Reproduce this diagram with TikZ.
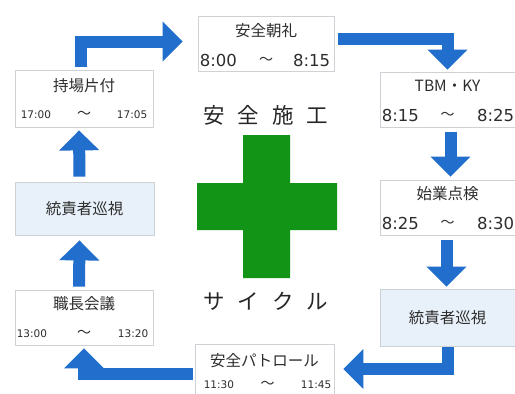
\documentclass[tikz,border=0pt]{standalone}
\usepackage{fontspec}
\newfontfamily\jp{Noto Sans CJK JP}
\newfontfamily\num{DejaVu Sans}
\usetikzlibrary{arrows.meta}
\definecolor{arrowblue}{RGB}{34,110,204}
\definecolor{boxline}{RGB}{206,210,214}
\definecolor{boxblue}{RGB}{232,241,249}
\definecolor{crossgreen}{RGB}{18,148,22}
\definecolor{txt}{RGB}{45,45,45}
\tikzset{
  box/.style={draw=boxline, line width=0.8pt, fill=white, inner sep=0pt},
  bluebox/.style={box, fill=boxblue},
  title/.style={inner sep=0pt, text=txt, font=\jp\fontsize{15.5}{16}\selectfont},
  tmbig/.style={inner sep=0pt, text=txt, font=\num\fontsize{16.5}{17}\selectfont},
  tmsmall/.style={inner sep=0pt, text=txt, font=\num\fontsize{10.5}{11}\selectfont},
  wave/.style={inner sep=0pt, text=txt, font=\jp\fontsize{14}{15}\selectfont},
  big/.style={inner sep=0pt, text=black!85, font=\jp\fontsize{21.5}{22}\selectfont},
  flow/.style={draw=arrowblue, line width=12pt, line join=miter,
    -{Triangle[width=39pt,length=20pt]}},
}
\begin{document}
\begin{tikzpicture}[x=1pt,y=-1pt]
\clip (0,0) rectangle (515,394);
\useasboundingbox (0,0) rectangle (515,394);
\fill[white] (0,0) rectangle (515,394);

% boxes
\node[box, minimum width=136pt, minimum height=55pt] (chorei) at (266,43.5) {};
\node[box, minimum width=138pt, minimum height=57pt] (jiba) at (84,98.5) {};
\node[bluebox, minimum width=139pt, minimum height=53pt] (tl) at (84.5,208.5) {};
\node[box, minimum width=138pt, minimum height=55pt] (shoku) at (84,317.5) {};
\node[box, minimum width=139pt, minimum height=56pt] (patrol) at (264.5,372) {};
\node[box, minimum width=135pt, minimum height=55pt] (tbm) at (447.5,99.5) {};
\node[box, minimum width=135pt, minimum height=55pt] (shigyo) at (447.5,207.5) {};
\node[bluebox, minimum width=135pt, minimum height=57pt] (tr) at (447.5,317.5) {};

% titles
\node[title] (t1) at ([yshift=-15pt]chorei.north) {安全朝礼};
\node[title] (t2) at ([yshift=-16pt]jiba.north) {持場片付};
\node[title] (t3) at (tl.center) {統責者巡視};
\node[title] (t4) at ([yshift=-14pt]shoku.north) {職長会議};
\node[title] (t5) at ([yshift=-17pt]patrol.north) {安全パトロール};
\node[title] (t6) at ([yshift=-14pt]tbm.north) {TBM・KY};
\node[title] (t7) at ([yshift=-14pt]shigyo.north) {始業点検};
\node[title] (t8) at (tr.center) {統責者巡視};

% times
\node[tmbig, anchor=west] (a1) at ([xshift=2pt,yshift=11pt]chorei.south west) {8:00};
\node[wave] (w1) at ([yshift=11pt]chorei.south) {～};
\node[tmbig, anchor=east] (b1) at ([xshift=-4pt,yshift=11pt]chorei.south east) {8:15};

\node[tmsmall, anchor=west] (a2) at ([xshift=6pt,yshift=13pt]jiba.south west) {17:00};
\node[wave] (w2) at ([yshift=13pt]jiba.south) {～};
\node[tmsmall, anchor=east] (b2) at ([xshift=-6pt,yshift=13pt]jiba.south east) {17:05};

\node[tmsmall, anchor=west] (a3) at ([xshift=2pt,yshift=12pt]shoku.south west) {13:00};
\node[wave] (w3) at ([yshift=12pt]shoku.south) {～};
\node[tmsmall, anchor=east] (b3) at ([xshift=-5pt,yshift=12pt]shoku.south east) {13:20};

\node[tmsmall, anchor=west] (a4) at ([xshift=9pt,yshift=-41pt]patrol.north west) {11:30};
\node[wave] (w4) at ([xshift=3pt,yshift=-41pt]patrol.north) {～};
\node[tmsmall, anchor=east] (b4) at ([xshift=-3pt,yshift=-41pt]patrol.north east) {11:45};

\node[tmbig, anchor=west] (a5) at ([xshift=2pt,yshift=12pt]tbm.south west) {8:15};
\node[wave] (w5) at ([yshift=12pt]tbm.south) {～};
\node[tmbig, anchor=east] (b5) at ([xshift=-1pt,yshift=12pt]tbm.south east) {8:25};

\node[tmbig, anchor=west] (a6) at ([xshift=2pt,yshift=12pt]shigyo.south west) {8:25};
\node[wave] (w6) at ([yshift=12pt]shigyo.south) {～};
\node[tmbig, anchor=east] (b6) at ([xshift=-1pt,yshift=12pt]shigyo.south east) {8:30};

% centre
\node[big] (top) at (266,115) {安\hspace{13pt}全\hspace{13pt}施\hspace{13pt}工};
\node[big] (bot) at (266,301) {サ\hspace{13pt}イ\hspace{13pt}ク\hspace{13pt}ル};
\fill[crossgreen] (243,135) -- (290,135) -- (290,183) -- (337,183) -- (337,230)
  -- (290,230) -- (290,278) -- (243,278) -- (243,230) -- (197,230) -- (197,183)
  -- (243,183) -- cycle;

% arrows
\draw[flow] ([xshift=-3pt,yshift=3pt]jiba.north) |- ([xshift=-15pt,yshift=2pt]chorei.west);
\draw[flow] ([xshift=4pt,yshift=4.5pt]chorei.east) -| ([yshift=2pt]tbm.north);
\draw[flow] ([xshift=3pt,yshift=-5pt]tbm.south) -- ([xshift=3pt,yshift=3pt]shigyo.north);
\draw[flow] ([xshift=-1pt,yshift=-5pt]shigyo.south) -- ([xshift=-1pt,yshift=2pt]tr.north);
\draw[flow] ([yshift=-1pt]tr.south) |- ([xshift=9pt,yshift=3pt]patrol.east);
\draw[flow] ([xshift=-2pt,yshift=-1.5pt]patrol.west) -| ([yshift=-3pt]shoku.south);
\draw[flow] ([xshift=-5pt,yshift=3pt]shoku.north) -- ([xshift=-5pt,yshift=-5pt]tl.south);
\draw[flow] ([xshift=-5pt,yshift=5pt]tl.north) -- ([xshift=-5pt,yshift=-3pt]jiba.south);
\end{tikzpicture}
\end{document}
